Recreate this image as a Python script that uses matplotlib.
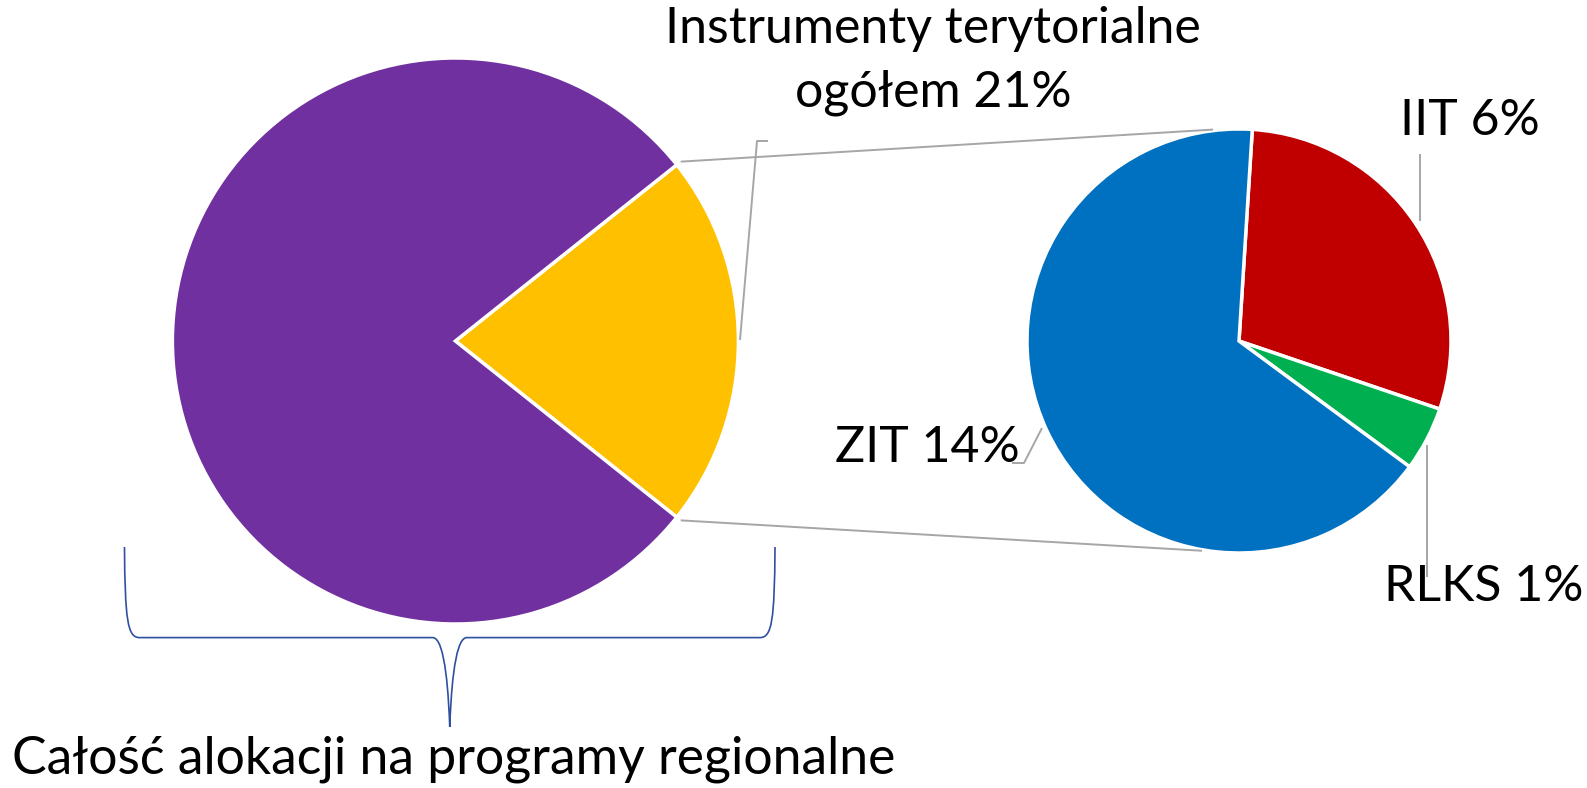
import matplotlib
matplotlib.use("Agg")
import matplotlib.pyplot as plt
from matplotlib.path import Path
from matplotlib.patches import PathPatch
import numpy as np

W, H = 1587, 788

# ---- data ----
main_labels = ["Pozostałe", "Instrumenty terytorialne ogółem"]
main_values = [78.6, 21.4]
sub_labels = ["IIT", "RLKS", "ZIT"]
sub_values = [6.25, 1.05, 14.1]
caption = "Całość alokacji na programy regionalne"

main_colors = ["#7030A0", "#FFC000"]
sub_colors = ["#C00000", "#00B050", "#0070C0"]
FONT = "Lato"
FS = 36
GREY = "#A6A6A6"

fig = plt.figure(figsize=(W / 100, H / 100), dpi=100)
ax = fig.add_axes([0, 0, 1, 1])


def Y(y):
    return H - y


c1 = (455.4, Y(341))
r1 = 283
c2 = (1239, Y(341))
r2 = 212

wp = dict(edgecolor="white", linewidth=2.5)
half = 180 * main_values[1] / 100
ax.pie([main_values[1], main_values[0]], colors=[main_colors[1], main_colors[0]],
       startangle=-half, counterclock=True, center=c1, radius=r1,
       wedgeprops=wp, frame=True)
ax.pie(sub_values, colors=sub_colors, startangle=86.4, counterclock=False,
       center=c2, radius=r2, wedgeprops=wp, frame=True)

ax.set_xlim(0, W)
ax.set_ylim(0, H)
ax.set_aspect("equal")
ax.axis("off")

# connectors between pies
t = np.deg2rad(half)
for sgn, ang in [(1, 97), (-1, -100)]:
    x0 = c1[0] + (r1 + 5) * np.cos(t)
    y0 = c1[1] + sgn * (r1 + 5) * np.sin(t)
    a = np.deg2rad(ang)
    x1 = c2[0] + (r2 + 1) * np.cos(a)
    y1 = c2[1] + (r2 + 1) * np.sin(a)
    ax.plot([x0, x1], [y0, y1], color=GREY, lw=1.4, solid_capstyle="butt")

# leader lines
def leader(pts):
    xs = [p[0] for p in pts]
    ys = [Y(p[1]) for p in pts]
    ax.plot(xs, ys, color=GREY, lw=1.4, solid_capstyle="butt")

leader([(740, 340), (757, 141), (768, 141)])
leader([(1420, 154), (1420, 221)])
leader([(1042, 428), (1024, 463), (1012, 463)])
leader([(1427, 445), (1427, 577)])

# labels
ax.text(933, Y(29), "Instrumenty terytorialne", ha="center", va="center",
        fontsize=FS, family=FONT)
ax.text(933, Y(93), f"ogółem {round(main_values[1])}%", ha="center", va="center",
        fontsize=FS, family=FONT)
sub_pos = {"IIT": (1470, 121), "RLKS": (1484, 587), "ZIT": (927, 448)}
for name, v in zip(sub_labels, sub_values):
    x, y = sub_pos[name]
    ax.text(x, Y(y), f"{name} {round(v)}%", ha="center", va="center",
            fontsize=FS, family=FONT)
ax.text(454, Y(759), caption, ha="center", va="center", fontsize=37.3, family=FONT)

# brace
L, R, top, hy, tipy = 124.5, 775, 547, 637.6, 727
cx = (L + R) / 2
verts = [
    (L, top), (L + 0.5, 620), (L + 3, hy), (L + 15, hy),
    (cx - 17, hy),
    (cx - 4, hy), (cx - 1, 700), (cx, tipy),
    (cx + 1, 700), (cx + 4, hy), (cx + 17, hy),
    (R - 15, hy),
    (R - 3, hy), (R - 0.5, 620), (R, top),
]
codes = [Path.MOVETO, Path.CURVE4, Path.CURVE4, Path.CURVE4,
         Path.LINETO,
         Path.CURVE4, Path.CURVE4, Path.CURVE4,
         Path.CURVE4, Path.CURVE4, Path.CURVE4,
         Path.LINETO,
         Path.CURVE4, Path.CURVE4, Path.CURVE4]
verts = [(x, Y(y)) for x, y in verts]
ax.add_patch(PathPatch(Path(verts, codes), facecolor="none", edgecolor="#2F4F9F", lw=1.2))

fig.savefig("out.png", dpi=100)
